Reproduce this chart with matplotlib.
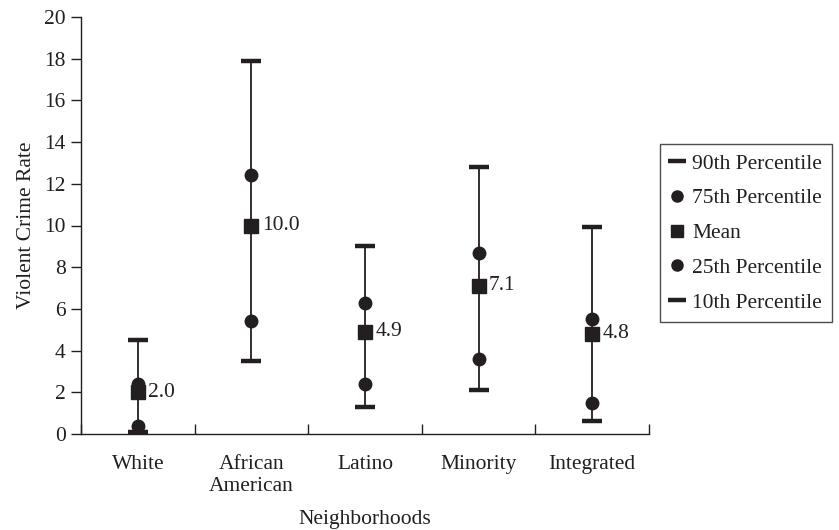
import matplotlib
matplotlib.use("Agg")
import matplotlib.pyplot as plt
from matplotlib.lines import Line2D

plt.rcParams['font.family'] = ['Liberation Serif', 'DejaVu Serif']

categories = ["White", "African\nAmerican", "Latino", "Minority", "Integrated"]
p90 = [4.5, 17.9, 9.0, 12.8, 9.95]
p75 = [2.4, 12.4, 6.3, 8.7, 5.5]
mean = [2.0, 10.0, 4.9, 7.1, 4.8]
p25 = [0.4, 5.4, 2.4, 3.6, 1.5]
p10 = [0.1, 3.5, 1.3, 2.1, 0.6]

ink = "#231f20"
fs = 15.5

fig = plt.figure(figsize=(8.39, 5.30), dpi=100)
ax = fig.add_axes([81/839, 1 - 434/530, (649-81)/839, (434-17)/530])

x = list(range(len(categories)))

ax.vlines(x, p10, p90, color=ink, lw=1.3, zorder=2)
ax.plot(x, p90, ls='none', marker='_', ms=14, mew=3.2, color=ink, zorder=3)
ax.plot(x, p10, ls='none', marker='_', ms=14, mew=3.2, color=ink, zorder=3)
ax.plot(x, p75, ls='none', marker='o', ms=9, color=ink, zorder=3)
ax.plot(x, p25, ls='none', marker='o', ms=9, color=ink, zorder=3)
ax.plot(x, mean, ls='none', marker='s', ms=9.5, color=ink, zorder=4)

for xi, m in zip(x, mean):
    ax.annotate(f"{m:.1f}", (xi, m), xytext=(7.5, 0), textcoords='offset points',
                va='center', ha='left', fontsize=fs, color=ink)

ax.set_xlim(-0.5, len(categories) - 0.5)
ax.set_ylim(0, 20)
ax.set_yticks(range(0, 21, 2))
ax.set_xticks([i + 0.5 for i in range(-1, len(categories))], minor=False)
ax.set_xticklabels([])
ax.set_xticks(x, minor=True)
ax.set_xticklabels(categories, minor=True, fontsize=fs, color=ink)
ax.tick_params(axis='x', which='minor', length=0, pad=15)
ax.tick_params(axis='x', which='major', direction='in', length=7, width=1, colors=ink)
ax.tick_params(axis='y', direction='out', length=7, width=1, labelsize=fs, colors=ink, pad=4)
for lab in ax.get_xticklabels(minor=True):
    lab.set_linespacing(1.25)

ax.spines['top'].set_visible(False)
ax.spines['right'].set_visible(False)
for s in ('left', 'bottom'):
    ax.spines[s].set_color(ink)
    ax.spines[s].set_linewidth(1.0)

ax.set_ylabel("Violent Crime Rate", fontsize=fs, color=ink, labelpad=6)
ax.set_xlabel("Neighborhoods", fontsize=fs, color=ink, labelpad=10)

handles = [
    Line2D([], [], ls='none', marker='_', ms=13, mew=3.2, color=ink),
    Line2D([], [], ls='none', marker='o', ms=8, color=ink),
    Line2D([], [], ls='none', marker='s', ms=9, color=ink),
    Line2D([], [], ls='none', marker='o', ms=8, color=ink),
    Line2D([], [], ls='none', marker='_', ms=13, mew=3.2, color=ink),
]
labels = ["90th Percentile", "75th Percentile", "Mean", "25th Percentile", "10th Percentile"]
leg = fig.legend(handles, labels, loc='upper left', bbox_to_anchor=(660/839, 1 - 144/530),
                 frameon=True, fancybox=False, edgecolor=ink, fontsize=fs,
                 handlelength=0.7, handletextpad=0.35, labelspacing=0.68,
                 borderpad=0.45, borderaxespad=0)
leg.get_frame().set_linewidth(1.0)
for t in leg.get_texts():
    t.set_color(ink)

fig.savefig("out.png", dpi=100)
